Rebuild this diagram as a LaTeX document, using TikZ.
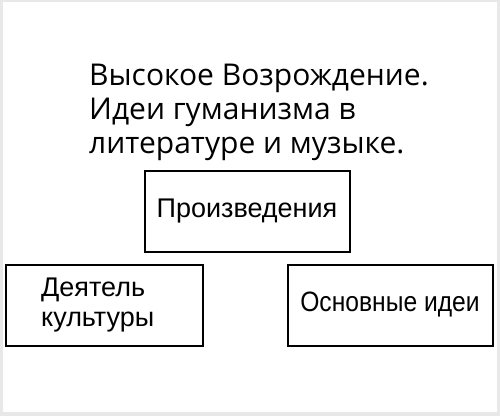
\documentclass[tikz,border=0pt]{standalone}
\usepackage{fontspec}
\setmainfont{Liberation Sans}
\newfontfamily\titlefont{Open Sans}
\newfontfamily\narrowfont[FakeStretch=0.88]{Liberation Sans}

\begin{document}
\begin{tikzpicture}[x=1pt,y=-1pt,
  box node/.style={draw,line width=2pt,minimum width=205pt,minimum height=81pt,inner sep=0pt,font=\fontsize{27}{30}\selectfont},
  title node/.style={align=left,inner sep=0pt,anchor=north west,font=\titlefont\fontsize{30}{34}\selectfont}]

  % frame
  \fill[black!9] (0,0) rectangle (500,416);
  \fill[white] (3,2) rectangle (497,412);

  \node[title node] (title) at (89,64) {Высокое Возрождение.\\Идеи гуманизма в\\литературе и музыке.};

  \node[box node] (works) at (247,211.5) {Произведения};
  \node[box node,minimum width=197pt,align=left,text width=127pt,inner xsep=35pt] (actor) at (104.7,305) {Деятель\\культуры};
  \node[box node,font=\narrowfont\fontsize{28}{30}\selectfont] (ideas) at (390,305) {Основные идеи\strut\hspace{20pt}};
\end{tikzpicture}
\end{document}
